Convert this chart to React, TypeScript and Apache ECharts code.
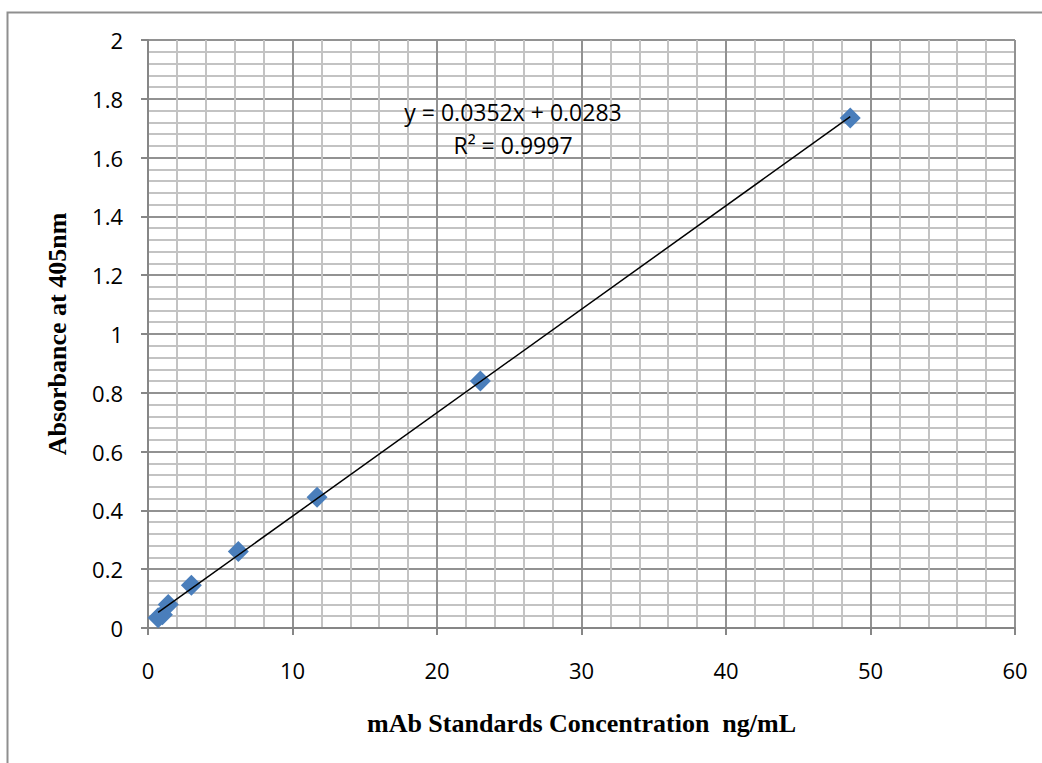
import React, { useEffect, useRef } from "react";
import * as echarts from "echarts";

const concentrations = [0.7, 1.0, 1.4, 3.0, 6.25, 11.7, 23.0, 48.6];
const absorbances = [0.035, 0.045, 0.08, 0.145, 0.26, 0.445, 0.84, 1.735];
const trendSlope = 0.0352;
const trendIntercept = 0.0283;
const trendX = [0.7, 48.6];
const equationLines = ["y = 0.0352x + 0.0283", "R² = 0.9997"];
const xTitle = "mAb Standards Concentration  ng/mL";
const yTitle = "Absorbance at 405nm";

export default function App() {
  const ref = useRef<HTMLDivElement>(null);
  useEffect(() => {
    document.body.style.margin = "0";
    const chart = echarts.init(ref.current!, undefined, { renderer: "svg" });
    const pts = concentrations.map((x, i) => [x, absorbances[i]]);
    const trend = trendX.map((x) => [x, trendSlope * x + trendIntercept]);
    const labelFont = { fontFamily: "Open Sans", fontSize: 22, color: "#000" };
    const titleFont = {
      fontFamily: "Liberation Serif",
      fontWeight: "bold" as const,
      fontSize: 26,
      color: "#000",
    };
    chart.setOption({
      animation: false,
      backgroundColor: "#fff",
      grid: { left: 148, top: 40, width: 867, height: 588 },
      xAxis: {
        type: "value",
        min: 0,
        max: 60,
        interval: 10,
        name: xTitle,
        nameLocation: "middle",
        nameGap: 82,
        nameTextStyle: titleFont,
        axisLine: { show: true, onZero: false, lineStyle: { color: "#868686", width: 2 } },
        axisTick: { show: true, inside: false, length: 7, lineStyle: { color: "#868686", width: 2 } },
        axisLabel: { ...labelFont, margin: 31 },
        splitLine: { show: true, lineStyle: { color: "#929292", width: 2 } },
        minorTick: { show: false, splitNumber: 5 },
        minorSplitLine: { show: true, lineStyle: { color: "#c3c3c3", width: 2 } },
      },
      yAxis: {
        type: "value",
        min: 0,
        max: 2,
        interval: 0.2,
        name: yTitle,
        nameLocation: "middle",
        nameGap: 78,
        nameTextStyle: titleFont,
        axisLine: { show: true, onZero: false, lineStyle: { color: "#868686", width: 2 } },
        axisTick: { show: true, inside: false, length: 7, lineStyle: { color: "#868686", width: 2 } },
        axisLabel: { ...labelFont, margin: 25 },
        splitLine: { show: true, lineStyle: { color: "#929292", width: 2 } },
        minorTick: { show: false, splitNumber: 5 },
        minorSplitLine: { show: true, lineStyle: { color: "#c3c3c3", width: 2 } },
      },
      graphic: [
        {
          type: "rect",
          left: 5,
          top: 10,
          shape: { x: 0, y: 0, width: 1100, height: 800 },
          style: { fill: "none", stroke: "#8f8f8f", lineWidth: 2 },
          z: -10,
          silent: true,
        },
        {
          type: "text",
          x: 513,
          y: 112,
          style: {
            text: equationLines[0],
            fontFamily: "Open Sans",
            fontSize: 23,
            fill: "#000",
            align: "center",
            verticalAlign: "middle",
          },
          z: 100,
        },
        {
          type: "text",
          x: 513,
          y: 145,
          style: {
            text: equationLines[1],
            fontFamily: "Open Sans",
            fontSize: 23,
            fill: "#000",
            align: "center",
            verticalAlign: "middle",
          },
          z: 100,
        },
      ],
      series: [
        {
          type: "scatter",
          data: pts,
          symbol: "diamond",
          symbolSize: 21,
          itemStyle: { color: "#4A7EBB", opacity: 1 },
          z: 3,
        },
        {
          type: "line",
          data: trend,
          symbol: "none",
          lineStyle: { color: "#000", width: 1.5 },
          z: 4,
        },
      ],
    });
    return () => chart.dispose();
  }, []);
  return <div ref={ref} style={{ width: 1042, height: 763 }} />;
}
